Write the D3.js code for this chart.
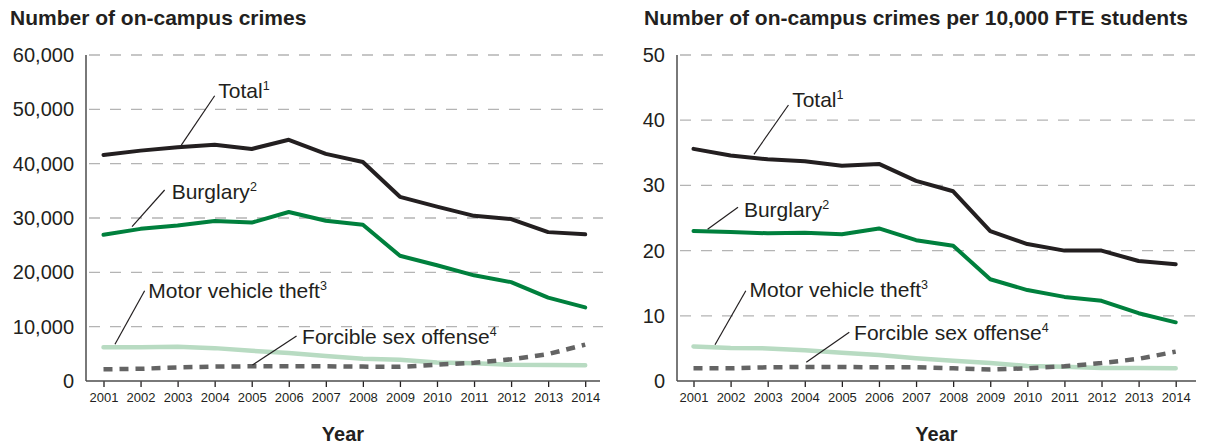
<!DOCTYPE html>
<html><head><meta charset="utf-8">
<script src="https://cdn.jsdelivr.net/npm/d3@7"></script>
<style>
body{margin:0;background:#fff}
svg{display:block}
text{font-family:"Liberation Sans",Arial,Helvetica,sans-serif;fill:#231f20}
</style>
</head><body>
<svg id="chart" width="1205" height="445"></svg>
<script>
// ---------- data ----------
const years = [2001,2002,2003,2004,2005,2006,2007,2008,2009,2010,2011,2012,2013,2014];

// Left panel: number of on-campus crimes
const totalCount    = [41600,42400,43000,43500,42700,44400,41800,40300,33900,32100,30400,29800,27400,27000];
const burglaryCount = [26900,28000,28600,29450,29150,31100,29500,28750,23050,21300,19450,18200,15350,13550];
const motorCount    = [6200,6200,6300,6050,5550,5150,4600,4100,3900,3400,3250,3000,2950,2900];
const sexCount      = [2150,2250,2500,2650,2700,2700,2700,2650,2600,3000,3350,4000,4950,6700];

// Right panel: per 10,000 FTE students
const totalRate    = [35.6,34.6,34.0,33.7,33.0,33.3,30.7,29.1,23.0,21.0,20.0,20.0,18.4,17.9];
const burglaryRate = [23.0,22.85,22.65,22.75,22.5,23.4,21.6,20.75,15.6,13.95,12.9,12.3,10.4,9.0];
const motorRate    = [5.3,5.05,5.0,4.7,4.35,4.0,3.5,3.1,2.75,2.3,2.2,2.0,2.0,1.95];
const sexRate      = [1.95,1.95,2.1,2.15,2.15,2.1,2.1,1.95,1.75,1.95,2.25,2.75,3.4,4.5];

const leftTicks  = [0,10000,20000,30000,40000,50000,60000];
const rightTicks = [0,10,20,30,40,50];

const seriesNames = ["Total","Burglary","Motor vehicle theft","Forcible sex offense"];
const seriesSups  = ["1","2","3","4"];

// ---------- styles ----------
const styles = [
  {color:"#231f20", width:4,   dash:null},
  {color:"#00803d", width:4,   dash:null},
  {color:"#b8dbc2", width:4.5, dash:null},
  {color:"#646464", width:4.5, dash:"9,7"}
];
const drawOrder = [2,3,1,0];

const svg = d3.select("#chart");

function panel(cfg){
  const g = svg.append("g");
  const x = d3.scaleLinear().domain([2001,2014]).range([cfg.x0, cfg.x1]);
  const y = d3.scaleLinear().domain([0, cfg.ymax]).range([381, 55]);

  // title
  g.append("text").attr("x", cfg.titleX).attr("y", 25)
    .attr("font-size", 21).attr("font-weight", "bold").text(cfg.title);

  // grid
  g.append("g").selectAll("line").data(cfg.ticks.filter(d=>d>0)).join("line")
    .attr("x1", cfg.axisX).attr("x2", cfg.gridEnd)
    .attr("y1", d=>y(d)).attr("y2", d=>y(d))
    .attr("stroke", "#b4b4b4").attr("stroke-width", 1.3)
    .attr("stroke-dasharray", "11,10").attr("stroke-dashoffset", -3);

  // y axis
  const ya = d3.axisLeft(y).tickValues(cfg.ticks).tickSize(0).tickPadding(12)
    .tickFormat(cfg.fmt);
  const yg = g.append("g").attr("transform", `translate(${cfg.axisX},0)`).call(ya);
  yg.select(".domain").remove();
  yg.selectAll("text").attr("font-size", 20).attr("fill", "#231f20")
    .style("font-family", '"Liberation Sans",Arial,sans-serif');
  g.append("line").attr("x1", cfg.axisX).attr("x2", cfg.axisX)
    .attr("y1", y(cfg.ymax)).attr("y2", y(0))
    .attr("stroke", "#4d4d4d").attr("stroke-width", 1.5);

  // x axis
  const xa = d3.axisBottom(x).tickValues(years).tickFormat(d3.format("d"))
    .tickSizeInner(6).tickSizeOuter(0).tickPadding(6);
  const xg = g.append("g").attr("transform", "translate(0,381)").call(xa);
  xg.select(".domain").remove();
  xg.selectAll(".tick line").attr("stroke", "#231f20").attr("stroke-width", 1.3);
  xg.selectAll("text").attr("font-size", 13).attr("fill", "#231f20")
    .style("font-family", '"Liberation Sans",Arial,sans-serif');
  g.append("line").attr("x1", cfg.axisX).attr("x2", cfg.axisEnd)
    .attr("y1", 381).attr("y2", 381)
    .attr("stroke", "#4d4d4d").attr("stroke-width", 1.5);

  g.append("text").attr("x", (cfg.axisX + cfg.axisEnd)/2).attr("y", 441)
    .attr("text-anchor", "middle").attr("font-size", 20).attr("font-weight", "bold")
    .text("Year");

  // lines
  const line = d3.line().x((d,i)=>x(years[i])).y(d=>y(d));
  drawOrder.forEach(k=>{
    const s = styles[k];
    g.append("path").datum(cfg.series[k]).attr("d", line)
      .attr("fill", "none").attr("stroke", s.color).attr("stroke-width", s.width)
      .attr("stroke-linejoin", "round").attr("stroke-linecap", s.dash ? "butt" : "round")
      .attr("stroke-dasharray", s.dash);
  });

  // annotations
  cfg.notes.forEach((n,k)=>{
    g.append("line")
      .attr("x1", x(n.l[0])).attr("y1", y(n.l[1]))
      .attr("x2", x(n.l[2])).attr("y2", y(n.l[3]))
      .attr("stroke", "#231f20").attr("stroke-width", 1.2);
    const t = g.append("text").attr("x", x(n.t[0])).attr("y", y(n.t[1]))
      .attr("font-size", 21);
    t.append("tspan").text(seriesNames[k]);
    t.append("tspan").attr("font-size", 12.5).attr("dy", -8).text(seriesSups[k]);
  });
}

panel({
  title: "Number of on-campus crimes", titleX: 10,
  x0: 103.5, x1: 585.2, axisX: 86, axisEnd: 600, gridEnd: 603,
  ymax: 60000, ticks: leftTicks, fmt: d3.format(","),
  series: [totalCount, burglaryCount, motorCount, sexCount],
  notes: [
    {t:[2004.1, 52100], l:[2004.0, 52500, 2003.1, 43400]},
    {t:[2002.84, 33500], l:[2002.65, 35150, 2001.77, 28400]},
    {t:[2002.21, 15330], l:[2002.11, 16620, 2001.31, 6750]},
    {t:[2006.36, 6750], l:[2006.21, 8280, 2005.02, 2945]}
  ]
});

panel({
  title: "Number of on-campus crimes per 10,000 FTE students", titleX: 644,
  x0: 693.5, x1: 1175.7, axisX: 677, axisEnd: 1196, gridEnd: 1205,
  ymax: 50, ticks: rightTicks, fmt: d3.format("d"),
  series: [totalRate, burglaryRate, motorRate, sexRate],
  notes: [
    {t:[2003.66, 42.07], l:[2003.56, 42.33, 2002.63, 34.77]},
    {t:[2002.36, 25.2], l:[2002.2, 26.64, 2001.38, 23.27]},
    {t:[2002.51, 12.84], l:[2002.41, 13.85, 2001.58, 5.57]},
    {t:[2005.33, 6.29], l:[2005.2, 7.47, 2004.04, 2.87]}
  ]
});
</script>
</body></html>
